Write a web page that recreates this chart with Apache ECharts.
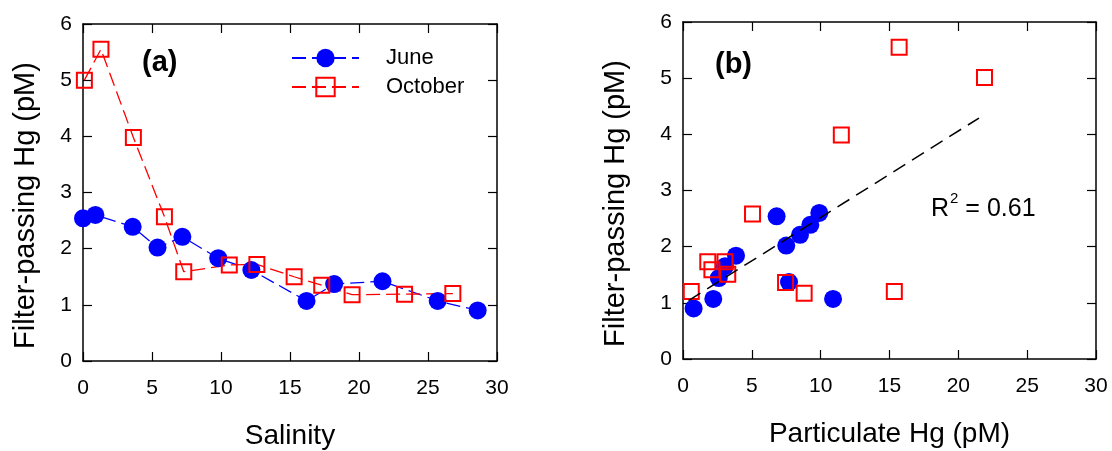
<!DOCTYPE html>
<html><head><meta charset="utf-8">
<script src="https://cdn.jsdelivr.net/npm/echarts@6/dist/echarts.min.js"></script>
<style>html,body{margin:0;padding:0;background:#fff}#c{width:1112px;height:451px}</style>
</head><body><div id="c"></div>
<script>
// Panel (a): filter-passing Hg vs salinity
const juneSalinity = [0, 0.9, 3.6, 5.4, 7.2, 9.8, 12.2, 16.2, 18.2, 21.7, 25.7, 28.6];
const juneHgA      = [2.54, 2.60, 2.39, 2.02, 2.21, 1.83, 1.62, 1.07, 1.37, 1.42, 1.07, 0.90];
const octSalinity  = [0.1, 1.3, 3.65, 5.9, 7.3, 10.6, 12.6, 15.3, 17.3, 19.5, 23.3, 26.8];
const octHgA       = [5.00, 5.55, 3.98, 2.57, 1.59, 1.71, 1.72, 1.50, 1.35, 1.18, 1.19, 1.20];
// Panel (b): filter-passing Hg vs particulate Hg
const junePartHg   = [0.77, 2.2, 2.6, 3.05, 3.85, 6.8, 7.5, 7.7, 8.5, 9.25, 9.9, 10.9];
const juneHgB      = [0.90, 1.07, 1.44, 1.65, 1.84, 2.54, 2.02, 1.37, 2.21, 2.39, 2.60, 1.07];
const octPartHg    = [0.6, 1.8, 2.1, 3.05, 3.25, 5.05, 7.45, 8.8, 11.5, 15.35, 15.7, 21.9];
const octHgB       = [1.20, 1.73, 1.59, 1.73, 1.51, 2.58, 1.36, 1.17, 3.99, 1.20, 5.55, 5.01];
const fitX = [0.4, 21.5];
const fitY = [1.04, 4.29];
const xTicks = [0, 5, 10, 15, 20, 25, 30];
const yTicks = [0, 1, 2, 3, 4, 5, 6];

const zip = (a, b) => a.map((v, i) => [v, b[i]]);
const FONT = 'Liberation Sans, Arial, sans-serif';
const BLUE = '#0000ff', RED = '#ff0000';

function xAx(grid, name, show) {
  return {
    gridIndex: grid, type: 'value', min: xTicks[0], max: xTicks[xTicks.length - 1], interval: 5,
    position: show ? 'bottom' : 'top',
    name: show ? name : '', nameLocation: 'middle', nameGap: 61,
    nameTextStyle: {fontFamily: FONT, fontSize: 28, color: '#000'},
    axisLine: {show: true, onZero: false, lineStyle: {color: '#000', width: 1.5}},
    axisTick: {show: true, inside: true, length: 9, lineStyle: {color: '#000', width: 1.2}},
    axisLabel: {show: show, fontFamily: FONT, fontSize: 21, color: '#000', margin: 17},
    splitLine: {show: false}
  };
}
function yAx(grid, name, gap, show) {
  return {
    gridIndex: grid, type: 'value', min: yTicks[0], max: yTicks[yTicks.length - 1], interval: 1,
    position: show ? 'left' : 'right',
    name: show ? name : '', nameLocation: 'middle', nameGap: gap,
    nameTextStyle: {fontFamily: FONT, fontSize: 29, color: '#000', padding: [0, 26, 0, 0]},
    axisLine: {show: true, onZero: false, lineStyle: {color: '#000', width: 1.5}},
    axisTick: {show: true, inside: true, length: 9, lineStyle: {color: '#000', width: 1.2}},
    axisLabel: {show: show, fontFamily: FONT, fontSize: 21, color: '#000', margin: 11},
    splitLine: {show: false}
  };
}

const chart = echarts.init(document.getElementById('c'), null, {renderer: 'canvas'});
chart.setOption({
  animation: false,
  backgroundColor: '#fff',
  grid: [
    {left: 83, top: 24, width: 414, height: 337, containLabel: false, outerBoundsMode: 'none'},
    {left: 683, top: 22, width: 413, height: 337, containLabel: false, outerBoundsMode: 'none'}
  ],
  xAxis: [
    xAx(0, 'Salinity', true), xAx(0, '', false),
    xAx(1, 'Particulate Hg (pM)', true), xAx(1, '', false)
  ],
  yAxis: [
    yAx(0, 'Filter-passing Hg (pM)', 43, true), yAx(0, '', 0, false),
    yAx(1, 'Filter-passing Hg (pM)', 53, true), yAx(1, '', 0, false)
  ],
  legend: {
    left: 291, top: 47, orient: 'vertical', itemWidth: 67, itemHeight: 23, itemGap: 7,
    padding: 0,
    textStyle: {fontFamily: FONT, fontSize: 22, color: '#000', padding: [0, 0, 0, 22]},
    data: ['June', 'October']
  },
  graphic: [
    {type: 'text', left: 142, top: 48, style: {text: '(a)', font: 'bold 29px ' + FONT, fill: '#000'}},
    {type: 'text', left: 715, top: 50, style: {text: '(b)', font: 'bold 29px ' + FONT, fill: '#000'}},
    {type: 'text', left: 931, top: 191, style: {
      text: '{r|R}{s|2}{r| = 0.61}',
      rich: {r: {fontFamily: FONT, fontSize: 25, color: '#000', padding: [6, 0, 0, 0]},
             s: {fontFamily: FONT, fontSize: 15, color: '#000', verticalAlign: 'top', padding: [0, 0, 0, 1]}}
    }}
  ],
  series: [
    {name: 'June', type: 'line', xAxisIndex: 0, yAxisIndex: 0, data: zip(juneSalinity, juneHgA),
     symbol: 'circle', symbolSize: 18,
     lineStyle: {color: BLUE, width: 1.3, type: [14, 6]},
     itemStyle: {color: BLUE, opacity: 1}},
    {name: 'October', type: 'line', xAxisIndex: 0, yAxisIndex: 0, data: zip(octSalinity, octHgA),
     symbol: 'rect', symbolSize: 15,
     lineStyle: {color: RED, width: 1.3, type: [14, 6]},
     itemStyle: {color: 'rgba(255,255,255,0)', borderColor: RED, borderWidth: 2}},
    {name: 'June', type: 'scatter', xAxisIndex: 2, yAxisIndex: 2, data: zip(junePartHg, juneHgB),
     symbol: 'circle', symbolSize: 18, itemStyle: {color: BLUE, opacity: 1}},
    {name: 'fit', type: 'line', xAxisIndex: 2, yAxisIndex: 2, data: zip(fitX, fitY),
     symbol: 'none', lineStyle: {color: '#000', width: 1.5, type: [14, 8]}},
    {name: 'October', type: 'scatter', xAxisIndex: 2, yAxisIndex: 2, data: zip(octPartHg, octHgB),
     symbol: 'rect', symbolSize: 15,
     itemStyle: {color: 'rgba(255,255,255,0)', borderColor: RED, borderWidth: 2, opacity: 1}}
  ]
});
</script></body></html>
